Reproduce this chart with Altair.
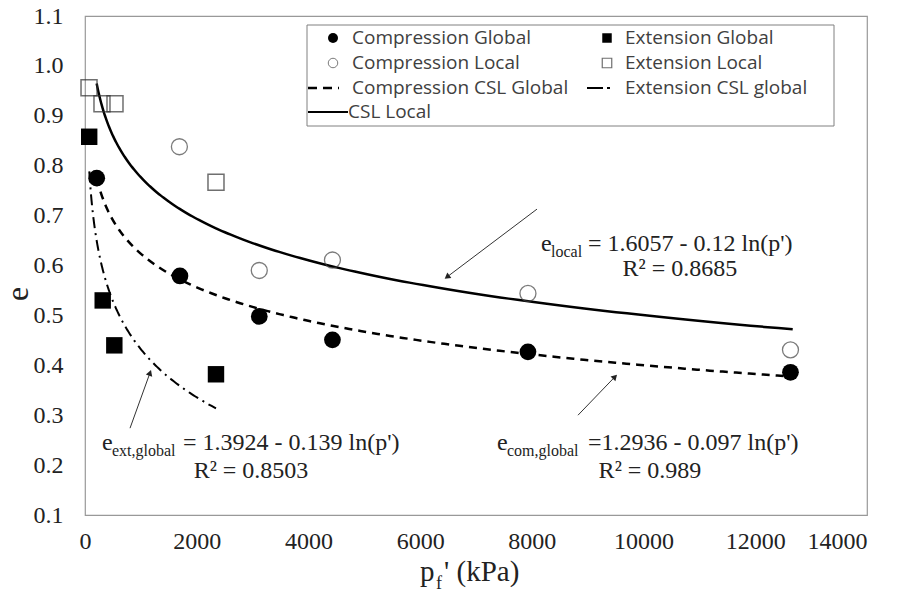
import math
import altair as alt
import pandas as pd

# ---------------- data ----------------
comp_global_p = [210, 1700, 3120, 4430, 7930, 12630]
comp_global_e = [0.775, 0.579, 0.498, 0.451, 0.427, 0.386]
comp_local_p = [1690, 3120, 4430, 7930, 12630]
comp_local_e = [0.838, 0.590, 0.611, 0.544, 0.431]
ext_global_p = [75, 317, 525, 2345]
ext_global_e = [0.858, 0.530, 0.440, 0.382]
ext_local_p = [72, 304, 537, 2345]
ext_local_e = [0.956, 0.924, 0.924, 0.767]

# fitted trendlines e = a - b ln(p'), as printed on the chart
fit_names = ["CSL Local", "Compression CSL Global", "Extension CSL global"]
fit_a = [1.6057, 1.2936, 1.3924]
fit_b = [0.12, 0.097, 0.139]
fit_p_min = [209, 210, 77]
fit_p_max = [12670, 12650, 2345]

x_ticks = [0, 2000, 4000, 6000, 8000, 10000, 12000, 14000]
y_ticks = [0.1, 0.2, 0.3, 0.4, 0.5, 0.6, 0.7, 0.8, 0.9, 1.0, 1.1]

legend_labels = ["Compression Global", "Compression Local", "Compression CSL Global",
                 "CSL Local", "Extension Global", "Extension  Local", "Extension CSL global"]

# annotation pieces (text, p, e, font size)
ann_left_text = ["e", "local", "= 1.6057 - 0.12 ln(p')",
                 "e", "ext,global", "= 1.3924 - 0.139 ln(p')",
                 "e", "com,global", "=1.2936 - 0.097 ln(p')"]
ann_left_p = [8164, 8343, 9005, 304, 483, 1754, 7376, 7555, 9005]
ann_left_e = [0.629, 0.617, 0.629, 0.2303, 0.2182, 0.2303, 0.2303, 0.2182, 0.2303]
ann_left_fs = [24, 16, 24, 24, 16, 24, 24, 16, 24]
ann_r2_text = ["R² = 0.8685", "R² = 0.8503", "R² = 0.989"]
ann_r2_p = [10652, 2972, 10115]
ann_r2_e = [0.579, 0.1741, 0.1741]

arrow_tail_p = [8092, 806, 8826]
arrow_tail_e = [0.713, 0.274, 0.300]
arrow_head_p = [6481, 1164, 9488]
arrow_head_e = [0.577, 0.385, 0.377]

# ---------------- layout ----------------
W, H = 782, 499
XMAX = 14000
SERIF = "'Liberation Serif', 'Times New Roman', serif"
SANS = "'Open Sans', sans-serif"

xscale = alt.Scale(domain=[0, XMAX], nice=False, zero=False)
yscale = alt.Scale(domain=[0.1, 1.1], nice=False, zero=False)
xaxis = alt.Axis(values=x_ticks, format="d", title=None, grid=False, ticks=False, tickSize=0,
                 domain=False, labelFont=SERIF, labelFontSize=24, labelColor="#222",
                 labelPadding=14, labelFlush=False, labelOverlap=False,
                 labelAlign={"condition": {"test": "datum.value >= 14000", "value": "right"},
                             "value": "center"})
yaxis = alt.Axis(values=y_ticks, format=".1f", title=None, grid=False, ticks=False, tickSize=0,
                 domain=False, labelFont=SERIF, labelFontSize=24, labelColor="#222",
                 labelPadding=22, labelOverlap=False)
X = alt.X("p:Q", scale=xscale, axis=xaxis)
Y = alt.Y("e:Q", scale=yscale, axis=yaxis)

layers = []

# trendlines
styles = [dict(strokeWidth=2.5), dict(strokeWidth=2.5, strokeDash=[8, 6]),
          dict(strokeWidth=2, strokeDash=[11, 5, 2, 5])]
for i in range(3):
    a, b, p0, p1 = fit_a[i], fit_b[i], fit_p_min[i], fit_p_max[i]
    c = (alt.Chart(alt.sequence(0, 1.0001, 0.005, as_="t"))
         .transform_calculate(p=f"exp(log({p0}) + min(datum.t,1)*(log({p1})-log({p0})))")
         .transform_calculate(e=f"{a} - {b}*log(datum.p)")
         .mark_line(color="black", **styles[i])
         .encode(x=X, y=Y))
    layers.append(c)

def pts(ps, es):
    return pd.DataFrame({"p": ps, "e": es})

layers.append(alt.Chart(pts(comp_local_p, comp_local_e)).mark_point(
    shape="circle", size=256, filled=False, color="#444", strokeWidth=1.3).encode(x=X, y=Y))
layers.append(alt.Chart(pts(ext_local_p, ext_local_e)).mark_point(
    shape="square", size=256, filled=False, color="#333", strokeWidth=1.5).encode(x=X, y=Y))
layers.append(alt.Chart(pts(comp_global_p, comp_global_e)).mark_point(
    shape="circle", size=280, filled=True, color="black", opacity=1).encode(x=X, y=Y))
layers.append(alt.Chart(pts(ext_global_p, ext_global_e)).mark_point(
    shape="square", size=270, filled=True, color="black", opacity=1).encode(x=X, y=Y))

# arrows
arrows = pd.DataFrame({"p": arrow_tail_p, "e": arrow_tail_e, "p2": arrow_head_p, "e2": arrow_head_e})
angles = []
for tp, te, hp, he in zip(arrow_tail_p, arrow_tail_e, arrow_head_p, arrow_head_e):
    dx = (hp - tp) * W / XMAX
    dy = -(he - te) * H / 1.0
    angles.append(math.degrees(math.atan2(dx, -dy)) % 360)
arrows["ang"] = angles
layers.append(alt.Chart(arrows).mark_rule(color="#333", strokeWidth=1).encode(
    x=X, y=Y, x2="p2:Q", y2="e2:Q"))
layers.append(alt.Chart(arrows).mark_point(shape="triangle-up", size=45, filled=True,
                                           color="#222", opacity=1).encode(
    x=alt.X("p2:Q", scale=xscale, axis=xaxis), y=alt.Y("e2:Q", scale=yscale, axis=yaxis),
    angle=alt.Angle("ang:Q", scale=None)))

# annotation texts
ann_l = pd.DataFrame({"txt": ann_left_text, "p": ann_left_p, "e": ann_left_e, "fs": ann_left_fs})
layers.append(alt.Chart(ann_l).mark_text(align="left", baseline="alphabetic", font=SERIF,
                                         color="#222").encode(
    x=X, y=Y, text="txt:N", size=alt.Size("fs:Q", scale=None)))
ann_r = pd.DataFrame({"txt": ann_r2_text, "p": ann_r2_p, "e": ann_r2_e})
layers.append(alt.Chart(ann_r).mark_text(align="center", baseline="alphabetic", font=SERIF,
                                         fontSize=24, color="#222").encode(
    x=X, y=Y, text="txt:N"))

# ---------------- legend box (pixel layout relative to plot area) ----------------
one = pd.DataFrame({"k": [0]})

layers.append(alt.Chart(one).mark_rect(fill="white", stroke="#808080", strokeWidth=1).encode(
    x=alt.value(222), x2=alt.value(749), y=alt.value(9), y2=alt.value(110)))
rows = [22, 47, 72, 96]
# markers
layers.append(alt.Chart(one).mark_point(shape="circle", size=100, filled=True, color="black",
                                        opacity=1).encode(x=alt.value(248), y=alt.value(rows[0])))
layers.append(alt.Chart(one).mark_point(shape="circle", size=90, filled=False, color="#444",
                                        strokeWidth=1).encode(x=alt.value(248), y=alt.value(rows[1])))
layers.append(alt.Chart(one).mark_rule(color="black", strokeWidth=2.5, strokeDash=[9, 6]).encode(
    x=alt.value(223), x2=alt.value(254), y=alt.value(rows[2])))
layers.append(alt.Chart(one).mark_rule(color="black", strokeWidth=2.2).encode(
    x=alt.value(223), x2=alt.value(263), y=alt.value(rows[3])))
layers.append(alt.Chart(one).mark_point(shape="square", size=90, filled=True, color="black",
                                        opacity=1).encode(x=alt.value(522), y=alt.value(rows[0])))
layers.append(alt.Chart(one).mark_point(shape="square", size=90, filled=False, color="#333",
                                        strokeWidth=1.2).encode(x=alt.value(522), y=alt.value(rows[1])))
layers.append(alt.Chart(one).mark_rule(color="black", strokeWidth=2.2, strokeDash=[16, 4, 3, 30]).encode(
    x=alt.value(502), x2=alt.value(529), y=alt.value(rows[2])))
# legend labels
leg_x = [267, 267, 267, 263, 540, 540, 540]
leg_y = [rows[0], rows[1], rows[2], rows[3], rows[0], rows[1], rows[2]]
for t, lx, ly in zip(legend_labels, leg_x, leg_y):
    layers.append(alt.Chart(one).mark_text(text=t, align="left", baseline="middle", font=SANS,
                                           fontSize=19, color="#404040").encode(
        x=alt.value(lx), y=alt.value(ly)))

# ---------------- axis titles ----------------
layers.append(alt.Chart(one).mark_text(text="e", align="center", baseline="middle", font=SERIF,
                                       fontSize=32, angle=270, color="#222").encode(
    x=alt.value(-67), y=alt.value(278)))
layers.append(alt.Chart(one).mark_text(text="p", align="left", baseline="alphabetic", font=SERIF,
                                       fontSize=29, color="#222").encode(
    x=alt.value(335), y=alt.value(565)))
layers.append(alt.Chart(one).mark_text(text="f", align="left", baseline="alphabetic", font=SERIF,
                                       fontSize=18, color="#222").encode(
    x=alt.value(351), y=alt.value(573)))
layers.append(alt.Chart(one).mark_text(text="' (kPa)", align="left", baseline="alphabetic", font=SERIF,
                                       fontSize=29, color="#222").encode(
    x=alt.value(359), y=alt.value(565)))

chart = alt.layer(*layers).properties(
    width=W, height=H,
    padding={"left": 85, "top": 16, "right": 34, "bottom": 81},
    autosize=alt.AutoSizeParams(type="none"),
    background="white",
).configure_view(stroke="#999", strokeWidth=1.2)

chart.save("out.html", embed_options={"renderer": "svg", "actions": False})
